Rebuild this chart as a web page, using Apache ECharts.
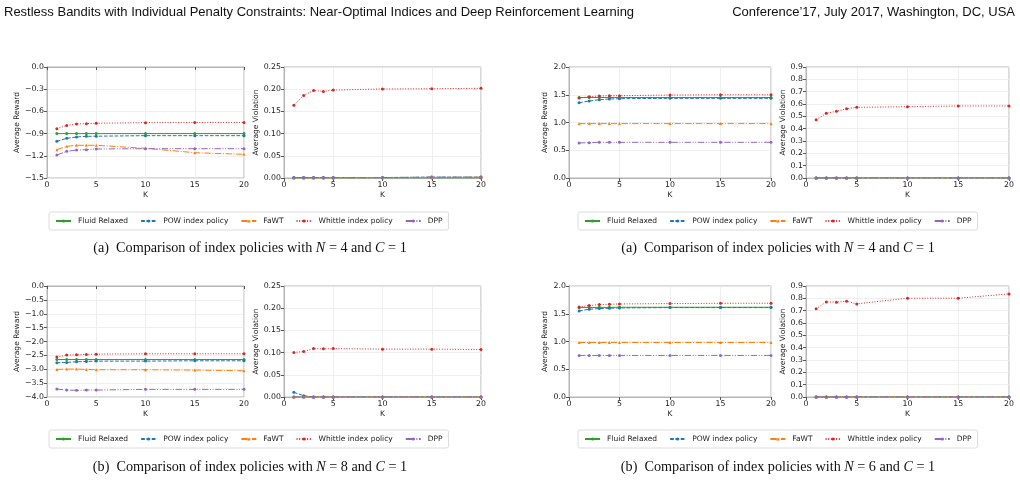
<!DOCTYPE html>
<html>
<head>
<meta charset="utf-8">
<script src="https://cdn.jsdelivr.net/npm/echarts@6/dist/echarts.min.js"></script>
<style>
  html, body { margin: 0; padding: 0; background: #fff; }
</style>
</head>
<body>
<div id="main" style="width: 1020px;height:481px;"></div>
<script>
// K values shared by every panel
var K = [1, 2, 3, 4, 5, 10, 15, 20];
var seriesNames = ['Fluid Relaxed', 'POW index policy', 'FaWT', 'Whittle index policy', 'DPP'];

// each panel: [fluid, pow, fawt, whittle, dpp]
var rewardN4a = [
  [-0.90, -0.90, -0.90, -0.90, -0.90, -0.90, -0.90, -0.90],
  [-1.005, -0.964, -0.946, -0.937, -0.935, -0.928, -0.928, -0.928],
  [-1.117, -1.072, -1.058, -1.058, -1.058, -1.099, -1.158, -1.18],
  [-0.833, -0.79, -0.77, -0.766, -0.76, -0.752, -0.75, -0.75],
  [-1.189, -1.14, -1.122, -1.117, -1.108, -1.104, -1.104, -1.104]
];
var violN4a = [
  [0, 0, 0, 0, 0, 0, 0, 0],
  [0.001, 0.001, 0.001, 0.001, 0.001, 0.001, 0.002, 0.002],
  [0, 0, 0, 0, 0, 0.001, 0.001, 0.002],
  [0.164, 0.186, 0.197, 0.195, 0.198, 0.2005, 0.201, 0.202],
  [0.001, 0.001, 0.001, 0.001, 0.001, 0.001, 0.002, 0.002]
];
var rewardN4b = [
  [1.45, 1.45, 1.45, 1.45, 1.45, 1.45, 1.45, 1.45],
  [1.357, 1.387, 1.411, 1.423, 1.429, 1.435, 1.435, 1.435],
  [0.98, 0.98, 0.98, 0.98, 0.98, 0.98, 0.98, 0.98],
  [1.441, 1.465, 1.477, 1.483, 1.483, 1.495, 1.50, 1.50],
  [0.631, 0.637, 0.643, 0.643, 0.643, 0.643, 0.643, 0.643]
];
var violN4b = [
  [0, 0, 0, 0, 0, 0, 0, 0],
  [0, 0, 0, 0, 0, 0, 0, 0],
  [0, 0, 0, 0, 0, 0, 0, 0],
  [0.473, 0.524, 0.541, 0.562, 0.573, 0.578, 0.584, 0.584],
  [0, 0, 0, 0, 0, 0, 0, 0]
];
var rewardN8 = [
  [-2.65, -2.65, -2.65, -2.65, -2.65, -2.65, -2.65, -2.65],
  [-2.766, -2.754, -2.73, -2.719, -2.707, -2.707, -2.695, -2.695],
  [-3.006, -2.994, -2.994, -3.006, -3.018, -3.018, -3.03, -3.054],
  [-2.563, -2.49, -2.479, -2.467, -2.455, -2.443, -2.443, -2.443],
  [-3.713, -3.749, -3.76, -3.749, -3.749, -3.725, -3.725, -3.725]
];
var violN8 = [
  [0, 0, 0, 0, 0, 0, 0, 0],
  [0.0105, 0.003, 0, 0, 0, 0, 0, 0],
  [0, 0, 0, 0, 0, 0, 0, 0],
  [0.1003, 0.1025, 0.109, 0.1085, 0.109, 0.1078, 0.1078, 0.107],
  [0, 0, 0, 0, 0, 0, 0, 0]
];
var rewardN6 = [
  [1.61, 1.612, 1.615, 1.615, 1.617, 1.617, 1.617, 1.617],
  [1.551, 1.581, 1.593, 1.599, 1.605, 1.611, 1.611, 1.611],
  [0.982, 0.982, 0.982, 0.982, 0.982, 0.982, 0.982, 0.982],
  [1.623, 1.647, 1.665, 1.671, 1.677, 1.683, 1.689, 1.689],
  [0.749, 0.749, 0.749, 0.749, 0.749, 0.749, 0.749, 0.749]
];
var violN6 = [
  [0, 0, 0, 0, 0, 0, 0, 0],
  [0, 0, 0, 0, 0, 0, 0, 0],
  [0, 0, 0, 0, 0, 0, 0, 0],
  [0.715, 0.771, 0.769, 0.777, 0.755, 0.801, 0.801, 0.836],
  [0, 0, 0, 0, 0, 0, 0, 0]
];

var colors = ['#2ca02c', '#1f77b4', '#ff7f0e', '#d62728', '#9467bd'];
var dashes = ['solid', [3.7, 1.6], [6.4, 1.6, 1, 1.6], [1, 1.65], [6.4, 1.6, 1, 1.6, 1, 1.6]];
var symbols = ['circle', 'circle', 'triangle', 'circle', 'circle'];
var font = 'DejaVu Sans';

// panel layout: grid box, y range, decimals, name, nameGap
var panels = [
  { data: rewardN4a, left: 47, top: 67, width: 197, min: -1.5, max: 0, step: 0.3, dec: 1, name: 'Average Reward', gap: 26 },
  { data: violN4a, left: 284, top: 67, width: 197, min: 0, max: 0.25, step: 0.05, dec: 2, name: 'Average Violation', gap: 24 },
  { data: rewardN4b, left: 569, top: 67, width: 202, min: 0, max: 2, step: 0.5, dec: 1, name: 'Average Reward', gap: 20 },
  { data: violN4b, left: 806, top: 67, width: 203, min: 0, max: 0.9, step: 0.1, dec: 1, name: 'Average Violation', gap: 19 },
  { data: rewardN8, left: 47, top: 286, width: 197, min: -4, max: 0, step: 0.5, dec: 1, name: 'Average Reward', gap: 26 },
  { data: violN8, left: 284, top: 286, width: 197, min: 0, max: 0.25, step: 0.05, dec: 2, name: 'Average Violation', gap: 24 },
  { data: rewardN6, left: 569, top: 286, width: 202, min: 0, max: 2, step: 0.5, dec: 1, name: 'Average Reward', gap: 20 },
  { data: violN6, left: 806, top: 286, width: 203, min: 0, max: 0.9, step: 0.1, dec: 1, name: 'Average Violation', gap: 19 }
];

var grids = [], xAxes = [], yAxes = [], series = [];
panels.forEach(function (p, gi) {
  grids.push({ left: p.left, top: p.top, width: p.width, height: 111, show: true, borderColor: '#b5b5b5', borderWidth: 1 });
  xAxes.push({
    type: 'value', gridIndex: gi, min: 0, max: 20, interval: 5,
    name: 'K', nameLocation: 'middle', nameGap: 13,
    nameTextStyle: { fontFamily: font, fontSize: 7.5, color: '#222' },
    axisLine: { lineStyle: { color: '#b5b5b5' } },
    axisTick: { show: true, length: 3, lineStyle: { color: '#555' } },
    axisLabel: { fontFamily: font, fontSize: 7.8, color: '#222', margin: 3 },
    splitLine: { show: true, lineStyle: { color: '#ebebeb', width: 0.8 } }
  });
  yAxes.push({
    type: 'value', gridIndex: gi, min: p.min, max: p.max, interval: p.step,
    name: p.name, nameLocation: 'middle', nameGap: p.gap,
    nameTextStyle: { fontFamily: font, fontSize: 7.5, color: '#222' },
    axisLine: { show: true, lineStyle: { color: '#b5b5b5' } },
    axisTick: { show: true, length: 3, lineStyle: { color: '#555' } },
    axisLabel: {
      fontFamily: font, fontSize: 7.8, color: '#222', margin: 3,
      formatter: (function (d) {
        return function (v) { return v.toFixed(d).replace('-', '\u2212'); };
      })(p.dec)
    },
    splitLine: { show: true, lineStyle: { color: '#ebebeb', width: 0.8 } }
  });
  p.data.forEach(function (vals, si) {
    series.push({
      name: seriesNames[si], type: 'line', xAxisIndex: gi, yAxisIndex: gi,
      data: K.map(function (k, i) { return [k, vals[i]]; }),
      symbol: symbols[si], symbolSize: 3, showSymbol: true,
      lineStyle: { color: colors[si], width: 1, type: dashes[si] },
      itemStyle: { color: colors[si] },
      animation: false
    });
  });
});

function legend(left, top) {
  return {
    left: left, top: top, data: seriesNames, itemGap: 12,
    itemWidth: 15, itemHeight: 4, padding: [5, 6],
    borderColor: '#dcdcdc', borderWidth: 1, borderRadius: 2,
    textStyle: { fontFamily: font, fontSize: 7.5, color: '#222', padding: [0, 0, 0, 2] }
  };
}

function caption(x, y, tag, n) {
  return {
    type: 'text', x: x, y: y,
    style: {
      text: '(' + tag + ')  Comparison of index policies with {i|N} = ' + n + ' and {i|C} = 1',
      fontFamily: 'Liberation Serif', fontSize: 14.2, fill: '#111',
      align: 'center', verticalAlign: 'middle',
      rich: { i: { fontFamily: 'Liberation Serif', fontSize: 14.2, fontStyle: 'italic', fill: '#111' } }
    }
  };
}

var myChart = echarts.init(document.getElementById('main'));
var option = {
  animation: false,
  color: colors,
  grid: grids,
  xAxis: xAxes,
  yAxis: yAxes,
  series: series,
  legend: [legend(49, 212), legend(578, 212), legend(49, 430), legend(578, 430)],
  graphic: [
    { type: 'text', x: 4, y: 12, style: { text: 'Restless Bandits with Individual Penalty Constraints: Near-Optimal Indices and Deep Reinforcement Learning', fontFamily: 'Liberation Sans', fontSize: 13, fill: '#111', verticalAlign: 'middle' } },
    { type: 'text', x: 1015, y: 12, style: { text: 'Conference\u201917, July 2017, Washington, DC, USA', fontFamily: 'Liberation Sans', fontSize: 13, fill: '#111', align: 'right', verticalAlign: 'middle' } },
    caption(250, 248, 'a', 4),
    caption(778, 248, 'a', 4),
    caption(250, 467, 'b', 8),
    caption(778, 467, 'b', 6)
  ]
};
myChart.setOption(option);
</script>
</body>
</html>
